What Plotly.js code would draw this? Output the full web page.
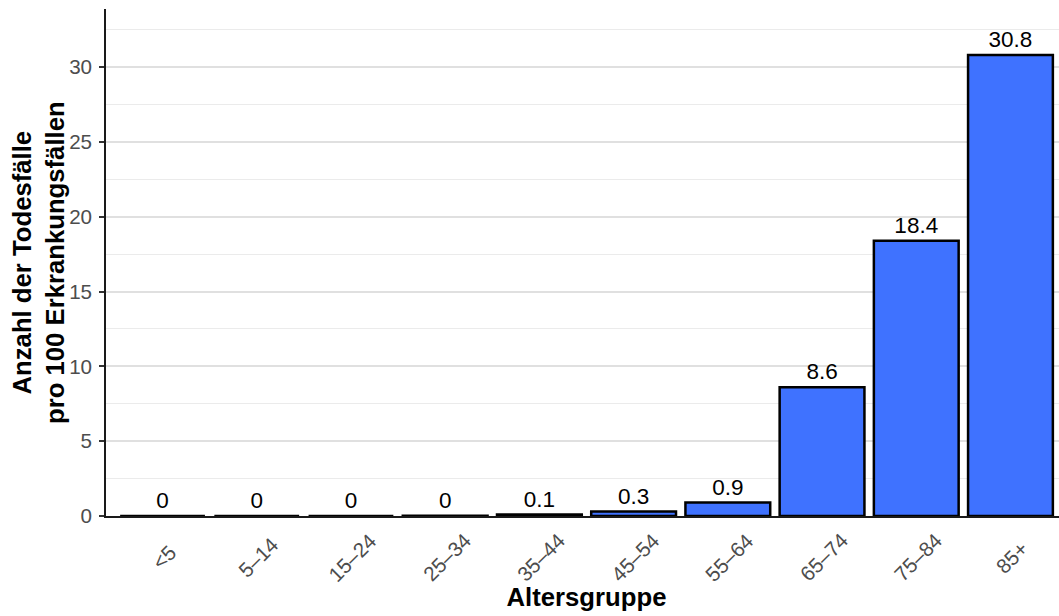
<!DOCTYPE html>
<html>
<head>
<meta charset="utf-8">
<script src="https://cdn.plot.ly/plotly-3.0.1.min.js"></script>
<style>
  html, body { margin: 0; padding: 0; overflow: hidden; background: #fff; }
  #chart { width: 1067px; height: 616px; }
</style>
</head>
<body>
<div id="chart"></div>
<script>
// ---- data ----
const categories = ["<5", "5\u201314", "15\u201324", "25\u201334", "35\u201344", "45\u201354", "55\u201364", "65\u201374", "75\u201384", "85+"];
const values = [0, 0, 0, 0.02, 0.1, 0.3, 0.9, 8.6, 18.4, 30.8];
const valueLabels = ["0", "0", "0", "0", "0.1", "0.3", "0.9", "8.6", "18.4", "30.8"];
const yTickVals = [0, 5, 10, 15, 20, 25, 30];
const yTickText = ["0", "5", "10", "15", "20", "25", "30"];
const xTitle = "Altersgruppe";
const yTitle = "Anzahl der Todesfälle<br>pro 100 Erkrankungsfällen";

const FONT = "Liberation Sans, Arial, sans-serif";
const titleSize = 25.7;
const tickSize = 20.6;

const trace = {
  type: "bar",
  x: categories.map((c, i) => i),
  y: values,
  width: 0.9,
  text: valueLabels,
  textposition: "outside",
  constraintext: "none",
  cliponaxis: false,
  textfont: { family: FONT, size: 22.5, color: "#000" },
  marker: { color: "#3F72FF", line: { color: "#000", width: 2.5 } },
  hoverinfo: "skip"
};

const tickAnnotations = categories.map((c, i) => ({
  x: i, xref: "x", y: 0, yref: "paper",
  yshift: -41, xshift: 1,
  text: c, showarrow: false, textangle: -45,
  xanchor: "center", yanchor: "middle",
  font: { family: FONT, size: tickSize, color: "#4d4d4d" }
}));

const yTitleAnnotation = {
  x: 0, xref: "paper", y: 0.5, yref: "paper",
  xshift: -67.5,
  text: "<b>" + yTitle + "</b>", showarrow: false, textangle: -90,
  xanchor: "center", yanchor: "middle",
  font: { family: FONT, size: titleSize, color: "#000" }
};

const layout = {
  width: 1067, height: 616,
  margin: { l: 106, r: 0, t: 9, b: 100.3 },
  paper_bgcolor: "#fff", plot_bgcolor: "#fff",
  showlegend: false,
  font: { family: FONT },
  bargap: 0.1,
  xaxis: {
    range: [-0.6, 9.6],
    tickvals: categories.map((c, i) => i),
    showticklabels: false,
    ticks: "",
    showgrid: false, zeroline: false,
    showline: true, linecolor: "#1a1a1a", linewidth: 1.8,
    title: { text: "<b>" + xTitle + "</b>", font: { family: FONT, size: titleSize, color: "#000" }, standoff: 71 },
    automargin: false, fixedrange: true
  },
  yaxis: {
    range: [0, 33.88],
    tickvals: yTickVals, ticktext: yTickText,
    ticks: "outside", ticklen: 5, tickwidth: 2, tickcolor: "#333",
    tickfont: { family: FONT, size: tickSize, color: "#4d4d4d" },
    ticklabelstandoff: 3,
    showgrid: true, gridcolor: "#e0e0e0", gridwidth: 2,
    minor: { dtick: 2.5, tick0: 0, showgrid: true, gridcolor: "#ebebeb", gridwidth: 1, ticks: "" },
    zeroline: false,
    showline: true, linecolor: "#1a1a1a", linewidth: 1.8,
    automargin: false, fixedrange: true
  },
  annotations: tickAnnotations.concat([yTitleAnnotation])
};

Plotly.newPlot("chart", [trace], layout, { displayModeBar: false, staticPlot: true });
</script>
</body>
</html>
